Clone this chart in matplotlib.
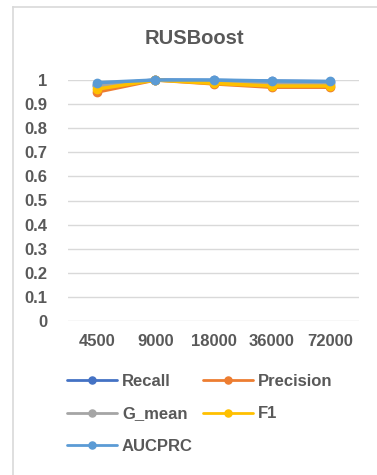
import matplotlib
matplotlib.use("Agg")
import matplotlib.pyplot as plt
from matplotlib.lines import Line2D

categories = ["4500", "9000", "18000", "36000", "72000"]
recall = [0.980, 1.000, 0.998, 0.995, 0.993]
precision = [0.950, 1.000, 0.984, 0.970, 0.970]
g_mean = [0.975, 1.000, 0.992, 0.985, 0.983]
f1 = [0.962, 1.000, 0.986, 0.975, 0.975]
aucprc = [0.989, 1.000, 1.000, 0.996, 0.994]
series_names = ["Recall", "Precision", "G_mean", "F1", "AUCPRC"]
y_ticks = [0, 0.1, 0.2, 0.3, 0.4, 0.5, 0.6, 0.7, 0.8, 0.9, 1]
y_labels = ["0", "0.1", "0.2", "0.3", "0.4", "0.5", "0.6", "0.7", "0.8", "0.9", "1"]

colors = ["#4472C4", "#ED7D31", "#A5A5A5", "#FFC000", "#5B9BD5"]
text_color = "#595959"
grid_color = "#D9D9D9"

plt.rcParams['font.family'] = ['Liberation Sans', 'DejaVu Sans']

W, H = 377, 475
fig = plt.figure(figsize=(W / 100, H / 100), dpi=100)

# outer chart frame (partially visible)
fig.add_artist(Line2D([12.5 / W, 12.5 / W], [0, 1 - 6.5 / H], transform=fig.transFigure,
                      color=grid_color, lw=1.2))
fig.add_artist(Line2D([12.5 / W, 1], [1 - 6.5 / H, 1 - 6.5 / H], transform=fig.transFigure,
                      color=grid_color, lw=1.2))

left, right = 68 / W, 359 / W
bottom, top = 1 - 321 / H, 1 - 80 / H
ax = fig.add_axes([left, bottom, right - left, top - bottom])

x = list(range(len(categories)))
data = [recall, precision, g_mean, f1, aucprc]
handles = []
for name, vals, c in zip(series_names, data, colors):
    h, = ax.plot(x, vals, color=c, lw=2.5, marker='o', markersize=6, label=name,
                 solid_capstyle='round', clip_on=False)
    handles.append(h)

ax.set_xlim(-0.5, len(categories) - 0.5)
ax.set_ylim(0, 1)
ax.set_yticks(y_ticks)
ax.set_yticklabels(y_labels)
ax.set_xticks(x)
ax.set_xticklabels(categories)
for s in ax.spines.values():
    s.set_visible(False)
ax.grid(axis='y', color=grid_color, lw=1)
ax.set_axisbelow(True)
ax.tick_params(axis='both', length=0, labelsize=12, labelcolor=text_color)
ax.tick_params(axis='y', pad=15)
ax.tick_params(axis='x', pad=9)
for lab in ax.get_xticklabels() + ax.get_yticklabels():
    lab.set_fontweight('bold')

fig.text((12.5 + W) / 2 / W, 1 - 38 / H, "RUSBoost", ha='center', va='center',
         fontsize=14.5, fontweight='bold', color=text_color)

# legend fills row-wise in the reference: reorder for matplotlib's column-wise fill
order = [0, 2, 4, 1, 3]
leg = fig.legend(handles=[handles[i] for i in order],
                 labels=[series_names[i] for i in order], ncol=2, loc='upper left',
                 bbox_to_anchor=(67 / W, 1 - 374 / H), frameon=False,
                 borderaxespad=0, borderpad=0,
                 handlelength=3.0, handletextpad=0.3, columnspacing=0.6,
                 labelspacing=1.05, markerscale=0.85,
                 prop={'weight': 'bold', 'size': 12})
for t in leg.get_texts():
    t.set_color(text_color)
for lh in leg.get_lines():
    lh.set_linewidth(2.0)

fig.savefig("out.png", dpi=100)
